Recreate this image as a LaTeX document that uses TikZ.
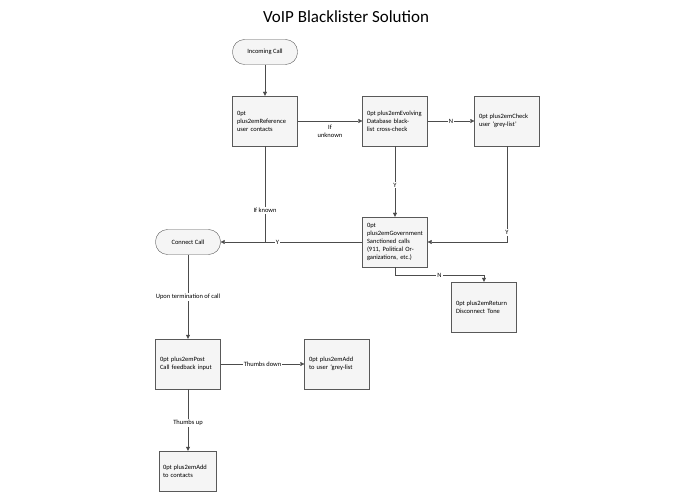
\documentclass[tikz,border=0pt]{standalone}
\usepackage{fontspec}
\setmainfont{Carlito}
\usetikzlibrary{arrows.meta, positioning}
\tikzset{
  procbox/.style={draw=gray!70!black, fill=gray!8, minimum width=65pt, minimum height=50pt,
    text width=56pt, align=center, font=\fontsize{6.5}{8}\selectfont\hyphenpenalty=10000},
  term/.style={draw=gray!70!black, fill=gray!8, rounded corners=12pt, minimum width=65pt,
    minimum height=25pt, align=center, font=\fontsize{6.5}{8}\selectfont},
  flow/.style={draw=gray!60!black, -{Triangle[length=4pt,width=4pt,fill=gray!60!black]}},
  lbl/.style={fill=white, inner sep=1pt, font=\fontsize{6.5}{8}\selectfont, align=center}
}
\begin{document}
\begin{tikzpicture}[x=1pt, y=-1pt]
\useasboundingbox (0,0) rectangle (695,494);
\node[font=\fontsize{17}{20}\selectfont] (title) at (346,17) {VoIP Blacklister Solution};
% top row
\node[term] (inc) at (265,52) {Incoming Call};
\node[procbox] (ref) at (265,121) {Reference user contacts};
\node[procbox] (evo) at (395,121) {Evolving Database black-list cross-check};
\node[procbox] (grey) at (507,121) {Check user `grey-list'};
% middle row
\node[procbox] (gov) at (395,242) {Government Sanctioned calls (911, Political Organizations, etc.)};
\node[term] (conn) at (188,242) {Connect Call};
\node[procbox] (disc) at (484,307) {Return Disconnect Tone};
% bottom
\node[procbox] (post) at (188,364) {Post Call feedback input};
\node[procbox] (addg) at (337,364) {Add to user `grey-list};
\node[procbox, minimum width=54pt, text width=50pt, minimum height=40pt] (addc) at (188,471) {Add to contacts};
\coordinate (join) at (265,242);
% connectors
\draw[flow] (inc) -- (ref);
\draw[flow] (ref) -- node[lbl, below=3pt, fill=none] {If\\unknown} (evo);
\draw[flow] (evo) -- node[lbl] {N} (grey);
\draw[flow] (evo) -- node[lbl, pos=0.55] {Y} (gov);
\draw[flow] (grey.south) |- node[lbl, pos=0.45] {Y} (gov.east);
\draw[draw=gray!60!black] (ref.south) -- node[lbl, pos=0.67] {If known} (join);
\draw[flow] (gov) -- node[lbl, pos=0.6] {Y} (conn);
\draw[flow] (gov.south) -- ++(0,8) -| node[lbl, pos=0.25] {N} (disc.north);
\draw[flow] (conn) -- node[lbl] {Upon termination of call} (post);
\draw[flow] (post) -- node[lbl] {Thumbs down} (addg);
\draw[flow] (post) -- node[lbl, pos=0.55] {Thumbs up} (addc);
\end{tikzpicture}
\end{document}
